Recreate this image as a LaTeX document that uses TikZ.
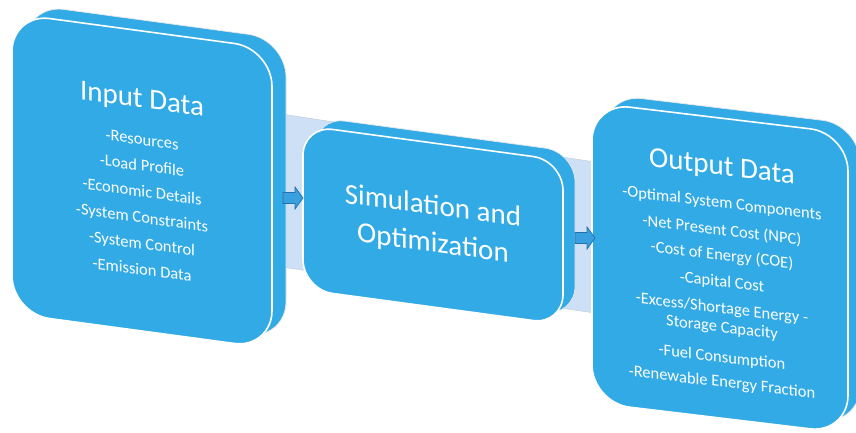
\documentclass[tikz,border=0pt]{standalone}
\usepackage{fontspec}
\setmainfont{Carlito}
\definecolor{boxblue}{RGB}{50,170,230}
\definecolor{bandblue}{RGB}{206,224,245}
\definecolor{bandedge}{RGB}{190,200,212}
\definecolor{arrowblue}{RGB}{56,160,222}
\definecolor{arrowedge}{RGB}{36,112,170}
\begin{document}
\begin{tikzpicture}[x=1pt,y=-1pt,
  backface/.style={fill=boxblue, draw=white!82!gray, line width=0.7pt,
    rounded corners=38pt, inner sep=0pt},
  frontface/.style={fill=boxblue, draw=white, line width=1.6pt,
    rounded corners=38pt, inner sep=0pt},
  titletext/.style={text=white, inner sep=0pt, anchor=base,
    font=\fontsize{29}{32}\selectfont},
  itemtext/.style={text=white, inner sep=0pt, anchor=base,
    font=\fontsize{16.5}{20}\selectfont},
  flowarrow/.style={fill=arrowblue, draw=arrowedge, line width=0.7pt,
    line join=miter}]
\useasboundingbox (0,0) rectangle (856,432);
\clip (0,0) rectangle (856,432);

% light band running behind the three stages
\fill[bandblue, draw=bandedge, line width=0.4pt]
  (275,113) -- (608,164) -- (608,315) -- (275,266) -- cycle;

% stage 1: input data
\begin{scope}[shift={(142,181)}, yslant=-0.135, transform shape]
  \node[backface, minimum width=260pt, minimum height=300pt] (inback) at (14,-11) {};
  \node[frontface, minimum width=260pt, minimum height=300pt] (in) at (0,0) {};
  \node[titletext] (intitle) at (0,-73) {Input Data};
  \foreach \t [count=\i] in {-Resources, -Load Profile, -Economic Details,
      -System Constraints, -System Control, -Emission Data}
    \node[itemtext] (initem\i) at (0,{-36+26*(\i-1)}) {\t};
\end{scope}

% stage 2: simulation and optimization
\begin{scope}[shift={(433,225)}, yslant=-0.135, transform shape]
  \node[backface, minimum width=260pt, minimum height=164pt, rounded corners=30pt] (simback) at (12,-10) {};
  \node[frontface, minimum width=260pt, minimum height=164pt, rounded corners=30pt] (sim) at (0,0) {};
  \node[titletext] (simtitleA) at (0,-10) {Simulation and};
  \node[titletext] (simtitleB) at (0,27) {Optimization};
\end{scope}

% stage 3: output data
\begin{scope}[shift={(720,268)}, yslant=-0.12, transform shape]
  \node[backface, minimum width=256pt, minimum height=300pt] (outback) at (12,-10) {};
  \node[frontface, minimum width=256pt, minimum height=300pt] (out) at (0,0) {};
  \node[titletext] (outtitle) at (2,-93) {Output Data};
  \foreach \d/\t [count=\i] in {-60/{-Optimal System Components},
      -33/{-Net Present Cost (NPC)}, -8/{-Cost of Energy (COE)},
      19/{-Capital Cost}, 45/{-Excess/Shortage Energy -},
      64/{Storage Capacity}, 94/{-Fuel Consumption},
      119/{-Renewable Energy Fraction}}
    \node[itemtext] (outitem\i) at (2,\d) {\t};
\end{scope}

% block arrows between the stages
\coordinate (arrA) at (283,198);
\coordinate (arrB) at (575,238);
\foreach \a in {arrA, arrB}
  \draw[flowarrow] (\a) ++(0,-5.5) -- ++(12,0) -- ++(0,-5.5) -- ++(8,11)
    -- ++(-8,11) -- ++(0,-5.5) -- ++(-12,0) -- cycle;
\end{tikzpicture}
\end{document}
